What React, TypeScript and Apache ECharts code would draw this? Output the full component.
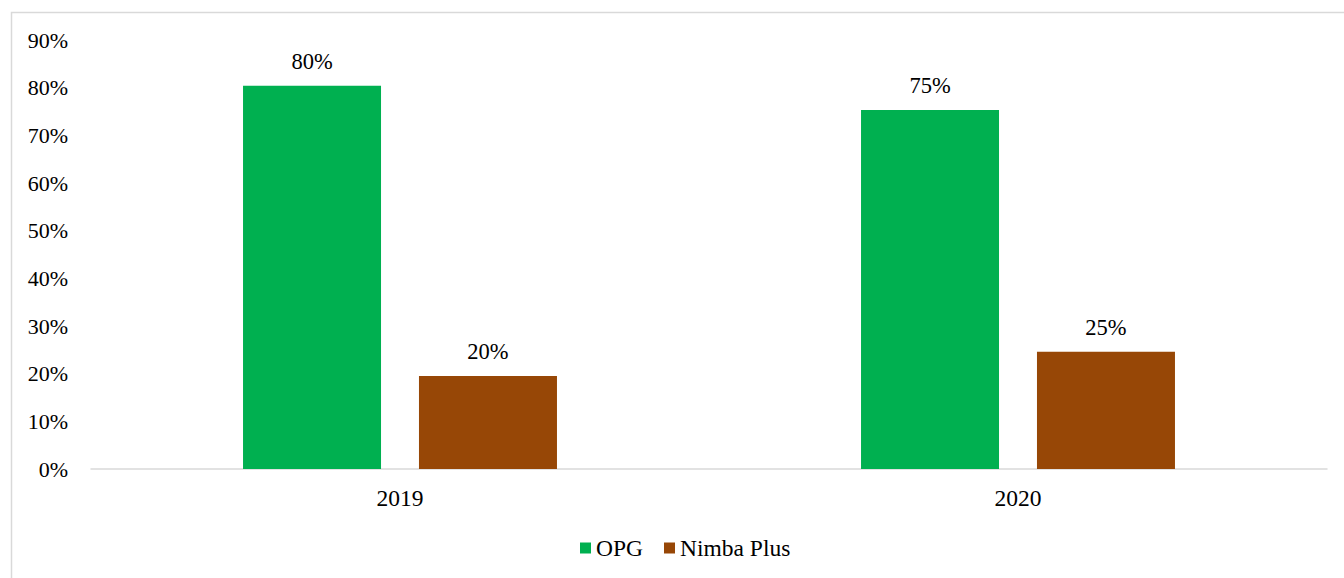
import React, { useEffect, useRef } from "react";
import * as echarts from "echarts";

const categories = ["2019", "2020"];
const opgValues = [80.4, 75.3];
const nimbaValues = [19.5, 24.6];
const seriesNames = ["OPG", "Nimba Plus"];

const FONT = "'Liberation Serif', 'Times New Roman', serif";

export default function App() {
  const ref = useRef<HTMLDivElement>(null);
  useEffect(() => {
    if (!ref.current) return;
    const chart = echarts.init(ref.current, null, { renderer: "svg" });
    const label = {
      show: true,
      position: "top",
      distance: 13,
      color: "#000",
      fontFamily: FONT,
      fontSize: 22.5,
      formatter: (p: any) => Math.round(p.value) + "%",
    };
    chart.setOption({
      animation: false,
      backgroundColor: "#fff",
      textStyle: { fontFamily: FONT },
      graphic: [
        {
          type: "rect",
          left: 9,
          top: 10,
          shape: { width: 1400, height: 620 },
          style: { fill: "none", stroke: "#d9d9d9", lineWidth: 1.5 },
          silent: true,
        },
      ],
      grid: { left: 91, right: 17, top: 40, bottom: 109, containLabel: false },
      legend: {
        bottom: 13,
        left: 575,
        itemWidth: 11,
        itemHeight: 11,
        itemGap: 21,
        icon: "rect",
        textStyle: { fontFamily: FONT, fontSize: 23.5, color: "#000" },
        data: seriesNames,
      },
      xAxis: {
        type: "category",
        data: categories,
        axisLine: { lineStyle: { color: "#d9d9d9", width: 1.5 } },
        axisTick: { show: false },
        axisLabel: { color: "#000", fontFamily: FONT, fontSize: 23.5, margin: 17 },
      },
      yAxis: {
        type: "value",
        min: 0,
        max: 90,
        interval: 10,
        axisLine: { show: false },
        axisTick: { show: false },
        splitLine: { show: false },
        axisLabel: {
          color: "#000",
          fontFamily: FONT,
          fontSize: 22,
          margin: 23,
          formatter: (v: number) => v + "%",
        },
      },
      series: [
        {
          name: seriesNames[0],
          type: "bar",
          data: opgValues,
          barWidth: 138,
          barGap: "27.5%",
          itemStyle: { color: "#00B050" },
          label,
        },
        {
          name: seriesNames[1],
          type: "bar",
          data: nimbaValues,
          barWidth: 138,
          barGap: "27.5%",
          itemStyle: { color: "#974706" },
          label,
        },
      ],
    });
    return () => chart.dispose();
  }, []);
  return (
    <div
      ref={ref}
      style={{ position: "fixed", left: 0, top: 0, width: 1344, height: 578 }}
    />
  );
}
